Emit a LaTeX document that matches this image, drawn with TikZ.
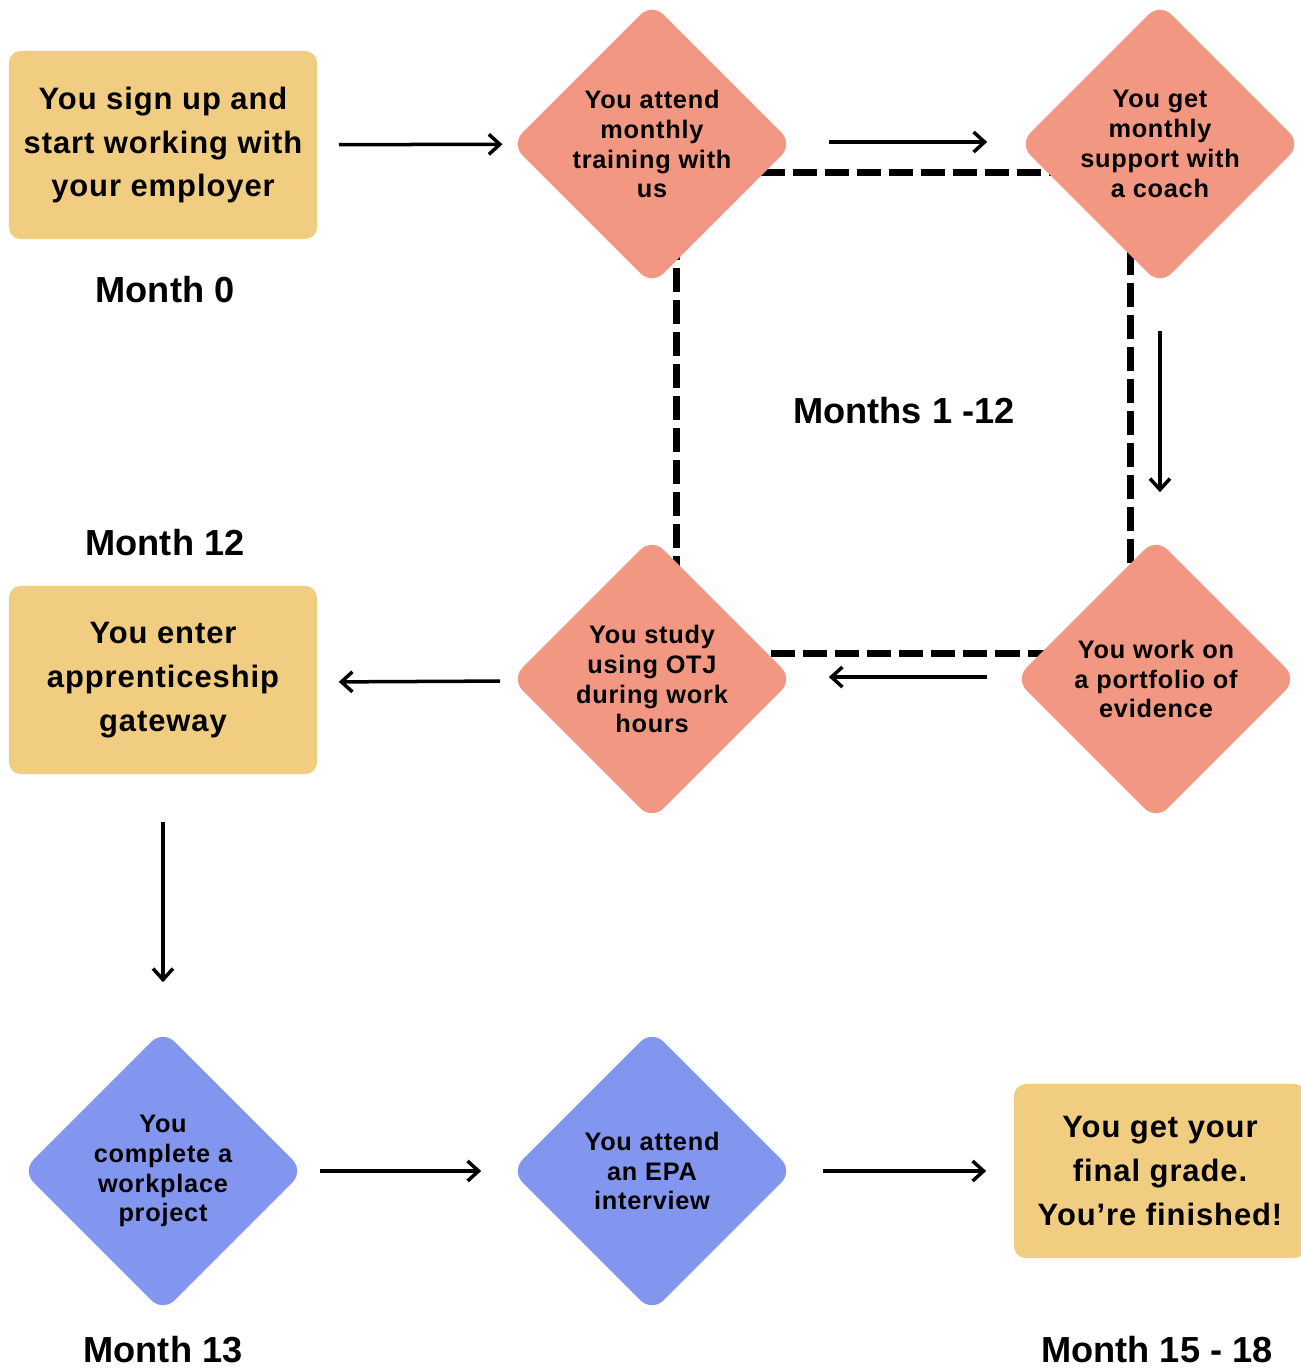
\documentclass[tikz,border=0pt]{standalone}
\usepackage{fontspec}
\newfontfamily\boxfont[LetterSpace=3]{Liberation Sans}
\newfontfamily\monthfont{Liberation Sans}
\usepackage{tikz}
\usetikzlibrary{arrows.meta, positioning, shapes.geometric}

\definecolor{sand}{HTML}{F0CD80}
\definecolor{salmon}{HTML}{F19782}
\definecolor{periwinkle}{HTML}{8396EF}

\tikzset{
  stepbox/.style={rectangle, rounded corners=0.12cm, fill=sand, minimum width=3.08cm,
    minimum height=1.88cm, align=center, inner sep=0pt,
    font=\boxfont\bfseries\fontsize{8.8}{12.5}\selectfont},
  task/.style={diamond, aspect=1, rounded corners=0.16cm, minimum size=2.82cm,
    inner sep=0pt, align=center, font=\boxfont\bfseries\fontsize{7.2}{8.5}\selectfont},
  month/.style={font=\monthfont\bfseries\fontsize{10.3}{12}\selectfont},
  flow/.style={-{Straight Barb[length=1.1mm, width=2mm]}, line width=0.035cm},
  cycleline/.style={line width=0.07cm, dash pattern=on 0.24cm off 0.08cm}
}

\begin{document}
\begin{tikzpicture}[x=0.01cm, y=-0.01cm]
  \useasboundingbox (0,0) rectangle (1301,1369);

  % the monthly cycle
  \draw[cycleline] (676,172) rectangle (1130,653);
  \node[month] (cycle) at (904,411) {Months 1 -12};

  % first row
  \node[stepbox] (b1) at (163,145) {You sign up and\\start working with\\your employer};
  \node[month] (m0) at (165,290) {Month 0};
  \node[task, fill=salmon] (d1) at (652,144) {You attend\\monthly\\training with\\us};
  \node[task, fill=salmon] (d2) at (1160,144) {You get\\monthly\\support with\\a coach};

  % second row
  \node[month] (m12) at (165,543) {Month 12};
  \node[stepbox] (b2) at (163,680) {You enter\\apprenticeship\\gateway};
  \node[task, fill=salmon] (d3) at (652,679) {You study\\using OTJ\\during work\\hours};
  \node[task, fill=salmon] (d4) at (1156,679) {You work on\\a portfolio of\\evidence};

  % third row
  \node[task, fill=periwinkle] (d5) at (163,1171) {You\\complete a\\workplace\\project};
  \node[task, fill=periwinkle] (d6) at (652,1171) {You attend\\an EPA\\interview};
  \node[stepbox, minimum width=2.92cm, minimum height=1.74cm] (b3) at (1160,1171)
    {You get your\\final grade.\\You’re finished!};
  \node[month] (m13) at (163,1350) {Month 13};
  \node[month] (m15) at (1157,1350) {Month 15 - 18};

  % arrows
  \draw[flow, shorten <=0.21cm, shorten >=0.08cm] (b1) -- (d1);
  \draw[flow, shorten <=0.35cm, shorten >=0.31cm] ([yshift=0.02cm]d1.east) -- ([yshift=0.02cm]d2.west);
  \draw[flow, shorten <=0.45cm, shorten >=0.45cm] (d2.south) -- (d2.south |- d4.north);
  \draw[flow, shorten <=0.27cm, shorten >=0.35cm] ([yshift=0.02cm]d4.west) -- ([yshift=0.02cm]d3.east);
  \draw[flow, shorten <=0.10cm, shorten >=0.21cm] ([yshift=-0.02cm]d3.west) -- ([yshift=-0.02cm]b2.east);
  \draw[flow, shorten <=0.47cm, shorten >=0.47cm] (b2) -- (d5);
  \draw[flow, shorten <=0.15cm, shorten >=0.29cm] (d5) -- (d6);
  \draw[flow, shorten <=0.29cm, shorten >=0.27cm] (d6) -- (b3);
\end{tikzpicture}
\end{document}
